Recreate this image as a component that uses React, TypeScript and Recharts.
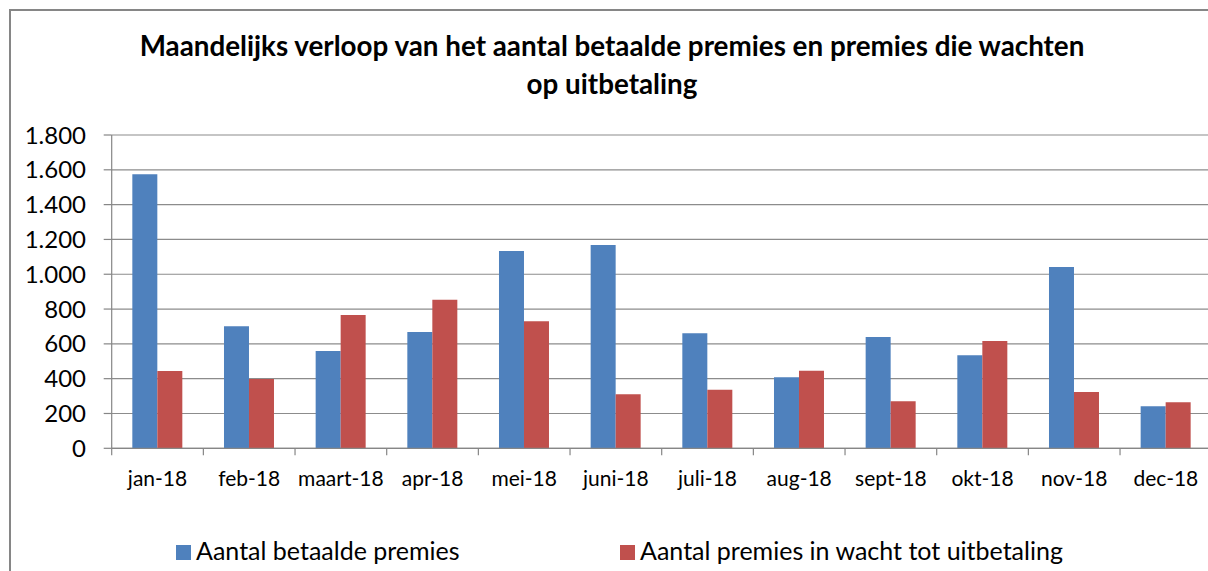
import React from "react";
import { BarChart, Bar, XAxis, YAxis, CartesianGrid } from "recharts";

const months = ["jan-18", "feb-18", "maart-18", "apr-18", "mei-18", "juni-18", "juli-18", "aug-18", "sept-18", "okt-18", "nov-18", "dec-18"];
const betaald = [1574, 701, 559, 668, 1134, 1168, 661, 408, 640, 534, 1042, 241];
const inWacht = [444, 398, 766, 854, 730, 310, 337, 446, 270, 617, 324, 264];
const yTicks = [0, 200, 400, 600, 800, 1000, 1200, 1400, 1600, 1800];
const seriesNames = ["Aantal betaalde premies", "Aantal premies in wacht tot uitbetaling"];
const seriesColors = ["#4F81BD", "#C0504D"];
const titleLines = ["Maandelijks verloop van het aantal betaalde premies en premies die wachten", "op uitbetaling"];

const data = months.map((m, i) => ({ month: m, betaald: betaald[i], inWacht: inWacht[i] }));

const FONT = "Lato, 'Noto Sans', sans-serif";
const BAND = 91.67;

const fmt = (v: number) => {
  const s = String(v);
  return s.length > 3 ? s.slice(0, s.length - 3) + "." + s.slice(s.length - 3) : s;
};

const XTick = (props: any) => {
  const { x, y, payload } = props;
  return (
    <g>
      <line x1={x - BAND / 2} y1={y} x2={x - BAND / 2} y2={y + 7} stroke="#868686" strokeWidth={1.2} />
      <text x={x} y={y + 38} textAnchor="middle" fontSize={21} fontFamily={FONT} fill="#000">
        {payload.value}
      </text>
    </g>
  );
};

export default function App() {
  return (
    <div style={{ position: "relative", width: 1208, height: 571, overflow: "hidden", background: "#fff" }}>
      <style>{"html,body{margin:0;overflow:hidden}"}</style>
      <div style={{ position: "absolute", left: 9, top: 9, width: 1230, height: 1.5, background: "#868686" }} />
      <div style={{ position: "absolute", left: 9, top: 9, width: 1.5, height: 562, background: "#868686" }} />
      <div style={{ position: "absolute", left: 0, top: 27, width: 1224, textAlign: "center", fontFamily: FONT, fontWeight: 700, fontSize: 27.8, lineHeight: "38px", color: "#000" }}>
        {titleLines.map((t) => (
          <div key={t}>{t}</div>
        ))}
      </div>
      <div style={{ position: "absolute", left: 0, top: 0 }}>
        <BarChart width={1208} height={571} data={data} margin={{ top: 135, right: -3.7, left: 0, bottom: 92.7 }} barCategoryGap="22.5%" barGap={0}>
          <CartesianGrid vertical={false} stroke="#8c8c8c" strokeWidth={1.2} />
          <XAxis dataKey="month" height={30} tickSize={0} tickMargin={0} tickLine={false} tick={<XTick />} axisLine={{ stroke: "#868686", strokeWidth: 1.2 }} interval={0} />
          <YAxis width={111.7} domain={[0, 1800]} ticks={yTicks} tickFormatter={fmt} tickSize={8} tickMargin={17.7} tick={{ fontSize: 24, fontFamily: FONT, fill: "#000" }} tickLine={{ stroke: "#868686", strokeWidth: 1.2 }} axisLine={{ stroke: "#868686", strokeWidth: 1.2 }} interval={0} />
          <Bar dataKey="betaald" name={seriesNames[0]} fill={seriesColors[0]} isAnimationActive={false} />
          <Bar dataKey="inWacht" name={seriesNames[1]} fill={seriesColors[1]} isAnimationActive={false} />
        </BarChart>
      </div>
      <div style={{ position: "absolute", top: 535, left: 0, width: 1208, height: 30, fontFamily: FONT, fontSize: 25, color: "#000" }}>
        {seriesNames.map((n, i) => (
          <div key={n} style={{ position: "absolute", left: i === 0 ? 176 : 620, top: 0, display: "flex", alignItems: "center", whiteSpace: "nowrap" }}>
            <span style={{ display: "inline-block", width: 15, height: 15, background: seriesColors[i], marginRight: 5, marginTop: 4 }} />
            <span>{n}</span>
          </div>
        ))}
      </div>
    </div>
  );
}
